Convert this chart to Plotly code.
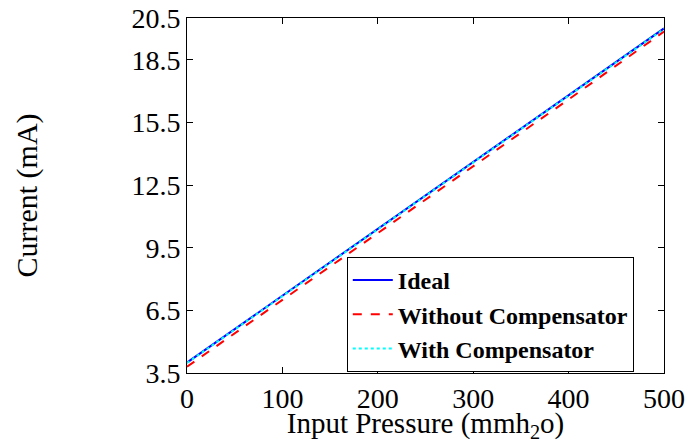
import plotly.graph_objects as go

pressure = [0, 100, 200, 300, 400, 500]
ideal = [4.0, 7.2, 10.4, 13.6, 16.8, 20.0]
without_comp = [3.8, 7.0, 10.2, 13.4, 16.6, 19.85]
with_comp = [3.98, 7.18, 10.38, 13.58, 16.78, 19.98]

x_ticks = [0, 100, 200, 300, 400, 500]
y_ticks = [3.5, 6.5, 9.5, 12.5, 15.5, 18.5, 20.5]

font_family = "Liberation Serif"

fig = go.Figure()
fig.add_trace(go.Scatter(x=pressure, y=ideal, mode="lines", name="<b>Ideal</b>",
                         line=dict(color="#0000ff", width=2, dash="solid")))
fig.add_trace(go.Scatter(x=pressure, y=without_comp, mode="lines", name="<b>Without Compensator</b>",
                         line=dict(color="#ff0000", width=2, dash="dash")))
fig.add_trace(go.Scatter(x=pressure, y=with_comp, mode="lines", name="<b>With Compensator</b>",
                         line=dict(color="#00ffff", width=2, dash="dot")))

axis_common = dict(
    showline=True, linecolor="black", linewidth=1, mirror="ticks",
    ticks="inside", ticklen=6, tickcolor="black", tickwidth=1,
    showgrid=False, zeroline=False, automargin=False,
    tickfont=dict(family=font_family, size=28, color="black"),
)

fig.update_layout(
    width=690, height=443,
    margin=dict(l=187, r=26, t=18, b=70),
    paper_bgcolor="white", plot_bgcolor="white",
    font=dict(family=font_family, color="black"),
    showlegend=True,
    legend=dict(
        x=0.335, y=0.327, xanchor="left", yanchor="top",
        bgcolor="white", bordercolor="black", borderwidth=1,
        font=dict(family=font_family, size=24, color="black"),
        tracegroupgap=0, itemwidth=40,
    ),
    xaxis=dict(
        range=[0, 500], tickvals=x_ticks, ticktext=[str(v) for v in x_ticks],
        title=dict(text="Input Pressure (mmh<sub>2</sub>o)", standoff=10,
                   font=dict(family=font_family, size=29, color="black")),
        **axis_common,
    ),
    yaxis=dict(
        range=[3.5, 20.5], tickvals=y_ticks, ticktext=[f"{v:.1f}" for v in y_ticks],
        title=dict(text="Current (mA)", standoff=84,
                   font=dict(family=font_family, size=30, color="black")),
        **axis_common,
    ),
)

fig.write_html("out.html")
